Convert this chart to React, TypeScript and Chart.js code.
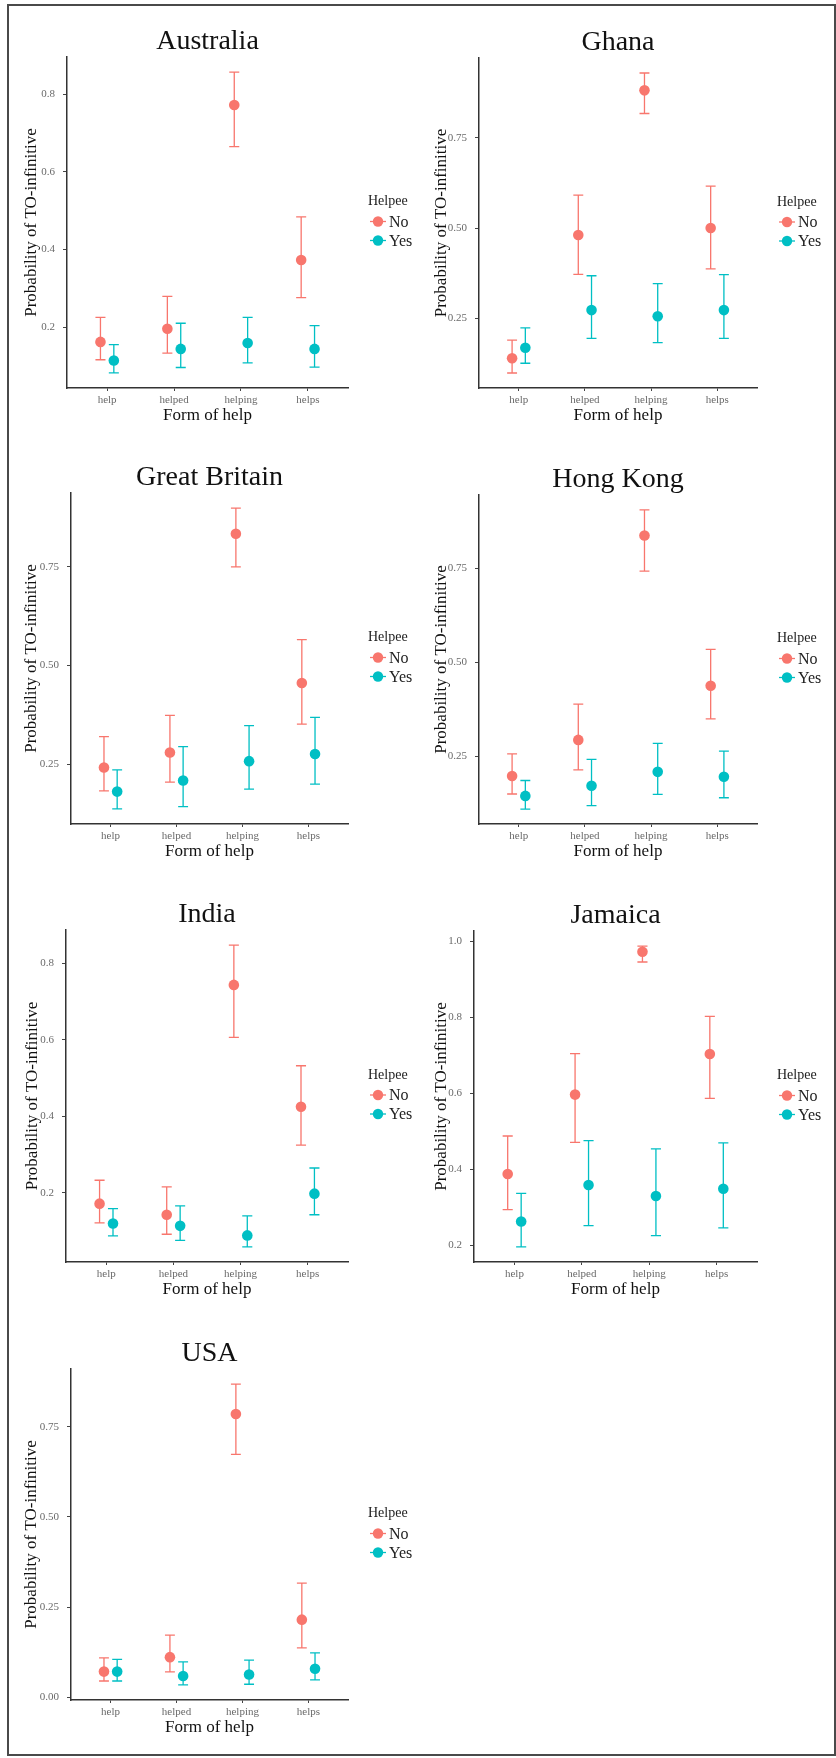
import React, { useEffect, useRef } from 'react';
import { Chart, registerables } from 'chart.js';

Chart.register(...registerables);

// ---------- data ----------
const FORMS = ['help', 'helped', 'helping', 'helps'];
const GROUPS = ['No', 'Yes'];
const COUNTRIES = ['Australia', 'Ghana', 'Great Britain', 'Hong Kong', 'India', 'Jamaica', 'USA'];

// each entry: [estimate, lower, upper] for help, helped, helping, helps
const AUSTRALIA_NO = [[0.162, 0.116, 0.225], [0.196, 0.133, 0.279], [0.772, 0.665, 0.857], [0.373, 0.276, 0.484]];
const AUSTRALIA_YES = [[0.114, 0.082, 0.155], [0.144, 0.096, 0.210], [0.159, 0.108, 0.225], [0.144, 0.097, 0.204]];
const GHANA_NO = [[0.140, 0.099, 0.190], [0.481, 0.372, 0.591], [0.881, 0.817, 0.929], [0.500, 0.387, 0.616]];
const GHANA_YES = [[0.169, 0.126, 0.224], [0.273, 0.195, 0.368], [0.256, 0.183, 0.346], [0.273, 0.195, 0.371]];
const GB_NO = [[0.242, 0.183, 0.320], [0.280, 0.205, 0.374], [0.834, 0.750, 0.899], [0.456, 0.352, 0.566]];
const GB_YES = [[0.181, 0.137, 0.236], [0.209, 0.143, 0.295], [0.258, 0.187, 0.348], [0.276, 0.200, 0.369]];
const HK_NO = [[0.197, 0.149, 0.256], [0.293, 0.213, 0.388], [0.837, 0.742, 0.905], [0.437, 0.349, 0.534]];
const HK_YES = [[0.144, 0.109, 0.185], [0.171, 0.118, 0.241], [0.208, 0.148, 0.284], [0.195, 0.139, 0.263]];
const INDIA_NO = [[0.172, 0.122, 0.233], [0.143, 0.092, 0.216], [0.743, 0.606, 0.847], [0.425, 0.325, 0.532]];
const INDIA_YES = [[0.120, 0.088, 0.159], [0.114, 0.076, 0.166], [0.089, 0.059, 0.140], [0.198, 0.143, 0.265]];
const JAMAICA_NO = [[0.388, 0.294, 0.488], [0.597, 0.471, 0.705], [0.973, 0.946, 0.988], [0.704, 0.587, 0.803]];
const JAMAICA_YES = [[0.263, 0.196, 0.337], [0.359, 0.252, 0.476], [0.330, 0.226, 0.454], [0.349, 0.246, 0.470]];
const USA_NO = [[0.071, 0.045, 0.109], [0.111, 0.070, 0.172], [0.785, 0.673, 0.868], [0.215, 0.137, 0.316]];
const USA_YES = [[0.071, 0.045, 0.105], [0.059, 0.034, 0.098], [0.063, 0.036, 0.103], [0.079, 0.048, 0.123]];

const TICKS_TENTHS = [0.2, 0.4, 0.6, 0.8];
const TICK_LABELS_TENTHS = ['0.2', '0.4', '0.6', '0.8'];
const TICKS_QUARTERS = [0.25, 0.5, 0.75];
const TICK_LABELS_QUARTERS = ['0.25', '0.50', '0.75'];
const TICKS_JAMAICA = [0.2, 0.4, 0.6, 0.8, 1.0];
const TICK_LABELS_JAMAICA = ['0.2', '0.4', '0.6', '0.8', '1.0'];
const TICKS_USA = [0, 0.25, 0.5, 0.75];
const TICK_LABELS_USA = ['0.00', '0.25', '0.50', '0.75'];

const Y_TITLE = 'Probability of TO-infinitive';
const X_TITLE = 'Form of help';
const LEGEND_TITLE = 'Helpee';

// ---------- style / layout ----------
const COLORS = ['#F8766D', '#00BFC4'];
const FONT = '"Liberation Serif", "Times New Roman", serif';
const DODGE = 0.1;
const CAP_HALF = 0.075;
const X_AXIS_H = 38;

const PANELS = [
  { title: COUNTRIES[0], no: AUSTRALIA_NO, yes: AUSTRALIA_YES, ticks: TICKS_TENTHS, labels: TICK_LABELS_TENTHS, L: 67, T: 57, R: 348, B: 388, yTitleX: 32, col: 0 },
  { title: COUNTRIES[1], no: GHANA_NO, yes: GHANA_YES, ticks: TICKS_QUARTERS, labels: TICK_LABELS_QUARTERS, L: 479, T: 58, R: 757, B: 388, yTitleX: 442, col: 1 },
  { title: COUNTRIES[2], no: GB_NO, yes: GB_YES, ticks: TICKS_QUARTERS, labels: TICK_LABELS_QUARTERS, L: 71, T: 493, R: 348, B: 824, yTitleX: 32, col: 0 },
  { title: COUNTRIES[3], no: HK_NO, yes: HK_YES, ticks: TICKS_QUARTERS, labels: TICK_LABELS_QUARTERS, L: 479, T: 495, R: 757, B: 824, yTitleX: 442, col: 1 },
  { title: COUNTRIES[4], no: INDIA_NO, yes: INDIA_YES, ticks: TICKS_TENTHS, labels: TICK_LABELS_TENTHS, L: 66, T: 930, R: 348, B: 1262, yTitleX: 33, col: 0 },
  { title: COUNTRIES[5], no: JAMAICA_NO, yes: JAMAICA_YES, ticks: TICKS_JAMAICA, labels: TICK_LABELS_JAMAICA, L: 474, T: 931, R: 757, B: 1262, yTitleX: 442, col: 1 },
  { title: COUNTRIES[6], no: USA_NO, yes: USA_YES, ticks: TICKS_USA, labels: TICK_LABELS_USA, L: 71, T: 1369, R: 348, B: 1700, yTitleX: 32, col: 0 },
];

const errorBarPlugin = {
  id: 'errorBars',
  beforeDatasetsDraw(chart: any) {
    const { ctx } = chart;
    const xs = chart.scales.x;
    const ys = chart.scales.y;
    chart.data.datasets.forEach((ds: any) => {
      ctx.save();
      ctx.strokeStyle = ds.backgroundColor;
      ctx.lineWidth = 1.3;
      ds.data.forEach((p: any) => {
        const x = xs.getPixelForValue(p.x);
        const x0 = xs.getPixelForValue(p.x - CAP_HALF);
        const x1 = xs.getPixelForValue(p.x + CAP_HALF);
        const yl = ys.getPixelForValue(p.lo);
        const yh = ys.getPixelForValue(p.hi);
        ctx.beginPath();
        ctx.moveTo(x, yl); ctx.lineTo(x, yh);
        ctx.moveTo(x0, yl); ctx.lineTo(x1, yl);
        ctx.moveTo(x0, yh); ctx.lineTo(x1, yh);
        ctx.stroke();
      });
      ctx.restore();
    });
  },
};

const decorPlugin = {
  id: 'panelDecor',
  afterDraw(chart: any, _args: any, opts: any) {
    const { ctx, chartArea: a } = chart;
    ctx.save();
    ctx.fillStyle = '#111';
    ctx.font = `28px ${FONT}`;
    ctx.textAlign = 'center';
    ctx.textBaseline = 'alphabetic';
    ctx.fillText(opts.title, (a.left + a.right) / 2, a.top - 8);

    const cy = (a.top + a.bottom) / 2;
    const lx = a.right + 20;
    ctx.textAlign = 'left';
    ctx.textBaseline = 'middle';
    ctx.font = `14px ${FONT}`;
    ctx.fillStyle = '#222';
    ctx.fillText(opts.legendTitle, lx, cy - 21);
    chart.data.datasets.forEach((ds: any, i: number) => {
      const y = cy - 1 + i * 19;
      ctx.strokeStyle = ds.backgroundColor;
      ctx.lineWidth = 1.3;
      ctx.beginPath();
      ctx.moveTo(lx + 2, y); ctx.lineTo(lx + 18, y);
      ctx.stroke();
      ctx.fillStyle = ds.backgroundColor;
      ctx.beginPath();
      ctx.arc(lx + 10, y, 5.2, 0, Math.PI * 2);
      ctx.fill();
      ctx.font = `16px ${FONT}`;
      ctx.fillStyle = '#222';
      ctx.fillText(ds.label, lx + 21, y + 1);
    });
    ctx.restore();
  },
};

function Panel({ p }: { p: any }) {
  const ref = useRef<HTMLCanvasElement | null>(null);
  const cx = p.col === 0 ? 0 : 416;
  const cw = p.col === 0 ? 416 : 420;
  const cy = p.T - 50;
  const ch = p.B - p.T + 100;

  useEffect(() => {
    if (!ref.current) return;
    const series = [p.no, p.yes];
    const allLo = series.flat().map((r: number[]) => r[1]);
    const allHi = series.flat().map((r: number[]) => r[2]);
    const lo = Math.min(...allLo);
    const hi = Math.max(...allHi);
    const span = hi - lo;
    const yScaleLeft = p.yTitleX - 10.2;
    const yW = p.L - yScaleLeft;
    const chart = new Chart(ref.current, {
      type: 'scatter',
      data: {
        datasets: series.map((rows: number[][], g: number) => ({
          label: GROUPS[g],
          data: rows.map((r, i) => ({ x: i + (g === 0 ? -DODGE : DODGE), y: r[0], lo: r[1], hi: r[2] })),
          backgroundColor: COLORS[g],
          borderColor: COLORS[g],
          borderWidth: 0,
          pointRadius: 5.3,
          showLine: false,
        })) as any,
      },
      options: {
        responsive: false,
        animation: false,
        events: [],
        layout: {
          padding: {
            left: yScaleLeft - cx,
            right: cx + cw - p.R,
            top: p.T - cy,
            bottom: cy + ch - p.B - X_AXIS_H,
          },
        },
        plugins: {
          legend: { display: false },
          tooltip: { enabled: false },
          title: { display: false },
          panelDecor: { title: p.title, legendTitle: LEGEND_TITLE },
        } as any,
        scales: {
          x: {
            type: 'linear',
            min: -0.6,
            max: FORMS.length - 0.4,
            afterBuildTicks: (s: any) => { s.ticks = FORMS.map((_, i) => ({ value: i })); },
            afterFit: (s: any) => { s.height = X_AXIS_H; },
            ticks: {
              callback: (v: any) => FORMS[Math.round(Number(v))],
              font: { family: FONT, size: 11 },
              color: '#6a6a6a',
              padding: 3,
              maxRotation: 0,
              autoSkip: false,
            },
            grid: { display: true, drawOnChartArea: false, drawTicks: true, tickLength: 3, color: '#444', tickWidth: 1 },
            border: { display: true, color: '#333', width: 1.5 },
            title: { display: true, text: X_TITLE, font: { family: FONT, size: 17 }, color: '#111', padding: 0 },
          },
          y: {
            type: 'linear',
            min: lo - 0.05 * span,
            max: hi + 0.05 * span,
            afterBuildTicks: (s: any) => { s.ticks = p.ticks.map((v: number) => ({ value: v })); },
            afterFit: (s: any) => { s.width = yW; },
            ticks: {
              callback: (v: any) => {
                const k = p.ticks.findIndex((t: number) => Math.abs(t - Number(v)) < 1e-9);
                return k >= 0 ? p.labels[k] : '';
              },
              font: { family: FONT, size: 11 },
              color: '#6a6a6a',
              padding: 8,
              autoSkip: false,
            },
            grid: { display: true, drawOnChartArea: false, drawTicks: true, tickLength: 4, color: '#444', tickWidth: 1 },
            border: { display: true, color: '#333', width: 1.5 },
            title: { display: true, text: Y_TITLE, font: { family: FONT, size: 17 }, color: '#111', padding: 0 },
          },
        },
      } as any,
      plugins: [errorBarPlugin, decorPlugin],
    });
    return () => chart.destroy();
  }, []);

  return (
    <canvas
      ref={ref}
      width={cw}
      height={ch}
      style={{ position: 'absolute', left: cx, top: cy, width: cw, height: ch }}
    />
  );
}

export default function App() {
  return (
    <div style={{ position: 'absolute', left: 0, top: 0, width: 836, height: 1758, background: '#fff', overflow: 'hidden' }}>
      <div
        style={{
          position: 'absolute', left: 7, top: 4, width: 829, height: 1752,
          border: '2px solid #4a4a4a', boxSizing: 'border-box',
        }}
      />
      {PANELS.map((p, i) => <Panel key={i} p={p} />)}
    </div>
  );
}
